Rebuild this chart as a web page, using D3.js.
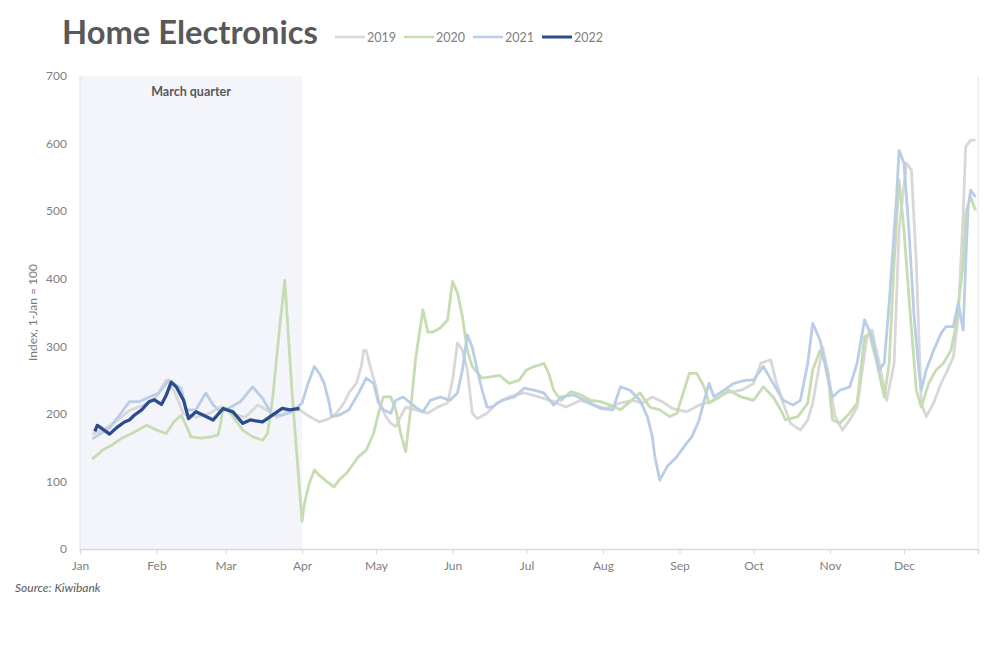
<!DOCTYPE html>
<html>
<head>
<meta charset="utf-8">
<script src="https://cdn.jsdelivr.net/npm/d3@7"></script>
<style>
  body { margin: 0; background: #fff; }
  svg { font-family: Lato, 'Open Sans', sans-serif; }
</style>
</head>
<body>
<script>
/* global d3 */

// values (day of year, index 1-Jan = 100)
const years = ['2019', '2020', '2021', '2022']
const colors = ['#d9d7d7', '#c6dcb1', '#b9cee6', '#2c4d8d']
const yTicks = [0, 100, 200, 300, 400, 500, 600, 700]

const days2019 = [5, 10, 15, 20, 25, 30, 35, 38, 42, 47, 52, 57, 62, 67, 72, 76, 80, 85,
  89, 93, 97, 101, 104, 107, 109, 112, 114, 115, 116, 118, 120, 121, 124, 126, 128, 130, 132, 136,
  141, 145, 149, 151, 153, 155, 157, 159, 161, 165, 169, 174, 180, 186, 192, 197, 203, 208, 213, 219,
  224, 228, 232, 236, 240, 246, 251, 257, 262, 268, 273, 276, 280, 282, 285, 288, 292, 295, 297, 301,
  303, 306, 309, 312, 315, 319, 321, 324, 327, 330, 332, 335, 337, 339, 341, 343, 346, 349, 351, 354,
  356, 358, 359, 361, 363]
const vals2019 = [170, 178, 190, 205, 212, 220, 250, 235, 200, 195, 200, 210, 200, 195, 213, 205, 195, 205,
  206, 196, 188, 193, 201, 216, 231, 245, 270, 294, 294, 265, 240, 220, 196, 186, 181, 196, 210, 206,
  201, 210, 216, 250, 305, 294, 265, 201, 193, 201, 216, 225, 231, 225, 218, 210, 220, 213, 208, 216,
  220, 216, 225, 218, 208, 203, 213, 220, 231, 235, 245, 275, 280, 250, 216, 186, 176, 191, 216, 299,
  265, 197, 176, 191, 210, 314, 324, 275, 220, 275, 472, 571, 561, 423, 216, 196, 216, 245, 260, 284,
  344, 497, 595, 605, 605]

const days2020 = [5, 9, 13, 17, 21, 27, 31, 35, 38, 41, 43, 45, 49, 53, 56, 57, 58, 60, 62, 66,
  70, 74, 76, 78, 81, 83, 86, 90,
  91, 93, 95, 97, 100, 103, 105, 108, 111, 113, 116, 119, 121, 123, 126, 128, 130, 132, 134, 136,
  139, 141, 143, 146, 149, 151, 153, 155, 157, 159, 163, 167, 170, 174, 178, 181, 184, 186, 188, 190,
  192, 195, 199, 203, 207, 211, 215, 219, 223, 227, 231, 235, 239, 242, 244, 247, 250, 253, 255, 259,
  263, 268, 273, 277, 281, 284, 286, 291, 295, 297, 300, 303, 305, 308, 312, 315, 318, 320, 323, 326,
  328, 330, 332, 334, 336, 339, 341, 344, 347, 350, 353, 355, 358, 359, 361, 363]
const vals2020 = [133, 146, 154, 164, 171, 183, 176, 171, 188, 198, 183, 166, 164, 166, 169, 186, 210, 206, 196, 176,
  166, 161, 171, 220, 330, 398, 230, 41,
  68, 98, 117, 109, 100, 92, 102, 112, 127, 137, 146, 171, 201, 225, 225, 206, 171, 144, 206, 280,
  354, 321, 321, 327, 339, 396, 379, 344, 294, 270, 253, 255, 257, 245, 250, 265, 270, 272, 275, 260,
  235, 220, 233, 228, 220, 218, 213, 206, 218, 231, 210, 206, 196, 201, 225, 260, 260, 240, 216, 225,
  235, 225, 220, 240, 225, 206, 191, 196, 216, 265, 294, 265, 191, 186, 201, 216, 314, 319, 275, 225,
  275, 423, 546, 472, 373, 235, 210, 245, 265, 275, 294, 329, 423, 497, 521, 501]

const days2021 = [5, 12, 16, 20, 24, 27, 32, 36, 41, 43, 47, 51, 54, 57, 60, 65, 70, 74, 78, 82, 86, 90,
  92, 95, 97, 99, 101, 102, 105, 109, 113, 116, 119, 121, 123, 126, 128, 131, 134, 136, 139, 142,
  146, 150, 153, 155, 157, 159, 161, 163, 165, 167, 171, 176, 180, 184,
  188, 192, 195, 200, 206, 211, 216, 219, 223, 227, 230, 232, 233, 235, 238, 242, 246, 248, 251, 253,
  255, 257, 261, 265, 270, 273, 277, 281, 285, 289, 292, 295, 297, 300, 303, 305, 308, 312, 315, 318,
  321, 324, 326, 328, 331, 332, 334, 336, 338, 340, 341, 343, 346, 349, 351, 354, 356, 358, 359, 360,
  361, 363]
const vals2021 = [163, 179, 198, 218, 218, 223, 231, 250, 238, 206, 206, 231, 213, 203, 208, 218, 240, 223, 198, 198, 203, 216,
  240, 270, 260, 245, 216, 196, 198, 206, 231, 253, 245, 216, 206, 201, 220, 225, 216, 210, 203, 220,
  225, 220, 231, 265, 317, 299, 265, 235, 210, 210, 220, 225, 238, 235,
  231, 213, 225, 228, 218, 208, 206, 240, 235, 220, 196, 166, 137, 102, 122, 137, 157, 166, 191, 220,
  245, 225, 235, 245, 250, 250, 270, 245, 220, 213, 220, 275, 334, 309, 255, 225, 235, 240, 275, 339,
  314, 265, 275, 364, 521, 590, 571, 472, 349, 265, 235, 265, 294, 319, 329, 329, 364, 324, 423, 506,
  531, 521]

const days2022 = [6, 7, 9, 12, 15, 18, 20, 22, 25, 28, 30, 33, 35, 37, 39, 42, 44, 47, 50, 54,
  58, 62, 66, 69, 74, 78, 82, 85, 89]
const vals2022 = [174, 183, 178, 170, 180, 188, 191, 198, 206, 218, 221, 214, 228, 247, 240, 220, 193, 203, 198, 191,
  208, 203, 186, 191, 188, 198, 208, 206, 208]

const seriesDays = [days2019, days2020, days2021, days2022]
const seriesVals = [vals2019, vals2020, vals2021, vals2022]

const W = 1000
const H = 664
const margin = { top: 76, right: 22, bottom: 115, left: 80 }

const svg = d3.select('body').append('svg')
  .attr('width', W)
  .attr('height', H)

const t0 = Date.UTC(2001, 0, 1)
const dayToDate = d => new Date(t0 + d * 864e5)

const x = d3.scaleUtc()
  .domain([dayToDate(0), dayToDate(364)])
  .range([margin.left, W - margin.right])

const y = d3.scaleLinear()
  .domain([0, 700])
  .range([H - margin.bottom, margin.top])

// March quarter shading
svg.append('rect')
  .attr('x', x(dayToDate(0)))
  .attr('y', y(700))
  .attr('width', x(dayToDate(90)) - x(dayToDate(0)))
  .attr('height', y(0) - y(700))
  .attr('fill', '#f3f5fa')

svg.append('text')
  .attr('x', (x(dayToDate(0)) + x(dayToDate(90))) / 2)
  .attr('y', y(700) + 20)
  .attr('text-anchor', 'middle')
  .attr('font-size', 12.5)
  .attr('font-weight', 'bold')
  .attr('fill', '#595959')
  .text('March quarter')

// frame lines
svg.append('line')
  .attr('x1', x.range()[0]).attr('x2', x.range()[0])
  .attr('y1', y(700)).attr('y2', y(0))
  .attr('stroke', '#e3e3e3')
svg.append('line')
  .attr('x1', x.range()[1]).attr('x2', x.range()[1])
  .attr('y1', y(700)).attr('y2', y(0))
  .attr('stroke', '#e3e3e3')

// axes
const yAxis = svg.append('g')
  .attr('transform', `translate(${margin.left},0)`)
  .call(d3.axisLeft(y).tickValues(yTicks).tickSize(0).tickPadding(13))
yAxis.select('.domain').remove()
yAxis.selectAll('text')
  .attr('font-family', 'Lato, sans-serif')
  .attr('font-size', 12)
  .attr('fill', '#808080')

const xAxis = svg.append('g')
  .attr('transform', `translate(0,${y(0)})`)
  .call(d3.axisBottom(x)
    .ticks(d3.utcMonth.every(1))
    .tickFormat(d3.utcFormat('%b'))
    .tickSize(5)
    .tickPadding(7))
xAxis.select('.domain').attr('stroke', '#d9d9d9').attr('stroke-width', 1.5)
xAxis.selectAll('.tick line').attr('stroke', '#d9d9d9')
xAxis.selectAll('text')
  .attr('font-family', 'Lato, sans-serif')
  .attr('font-size', 12)
  .attr('fill', '#808080')

svg.append('text')
  .attr('transform', `translate(37,${(y(0) + y(700)) / 2}) rotate(-90)`)
  .attr('text-anchor', 'middle')
  .attr('font-size', 12)
  .attr('fill', '#7a7a7a')
  .text('Index, 1-Jan = 100')

// lines
const line = d3.line()
  .x(d => x(dayToDate(d[0])))
  .y(d => y(d[1]))

years.forEach((yr, i) => {
  const pts = seriesDays[i].map((d, j) => [d, seriesVals[i][j]])
  svg.append('path')
    .datum(pts)
    .attr('fill', 'none')
    .attr('stroke', colors[i])
    .attr('stroke-width', i === 3 ? 3.3 : 2.8)
    .attr('stroke-linejoin', 'round')
    .attr('d', line)
})

// title + legend
svg.append('text')
  .attr('x', 62)
  .attr('y', 44)
  .attr('font-size', 32.7)
  .attr('font-weight', 'bold')
  .attr('fill', '#595959')
  .text('Home Electronics')

const legendX = [335, 404, 473, 542]
years.forEach((yr, i) => {
  const g = svg.append('g').attr('transform', `translate(${legendX[i]},37)`)
  g.append('line')
    .attr('x1', 0).attr('x2', 30)
    .attr('stroke', colors[i])
    .attr('stroke-width', i === 3 ? 3 : 2.5)
  g.append('text')
    .attr('x', 32)
    .attr('y', 4.5)
    .attr('font-size', 12.5)
    .attr('fill', '#808080')
    .text(yr)
})

svg.append('text')
  .attr('x', 15)
  .attr('y', 592)
  .attr('font-size', 12)
  .attr('font-style', 'italic')
  .attr('fill', '#595959')
  .text('Source: Kiwibank')
</script>
</body>
</html>
